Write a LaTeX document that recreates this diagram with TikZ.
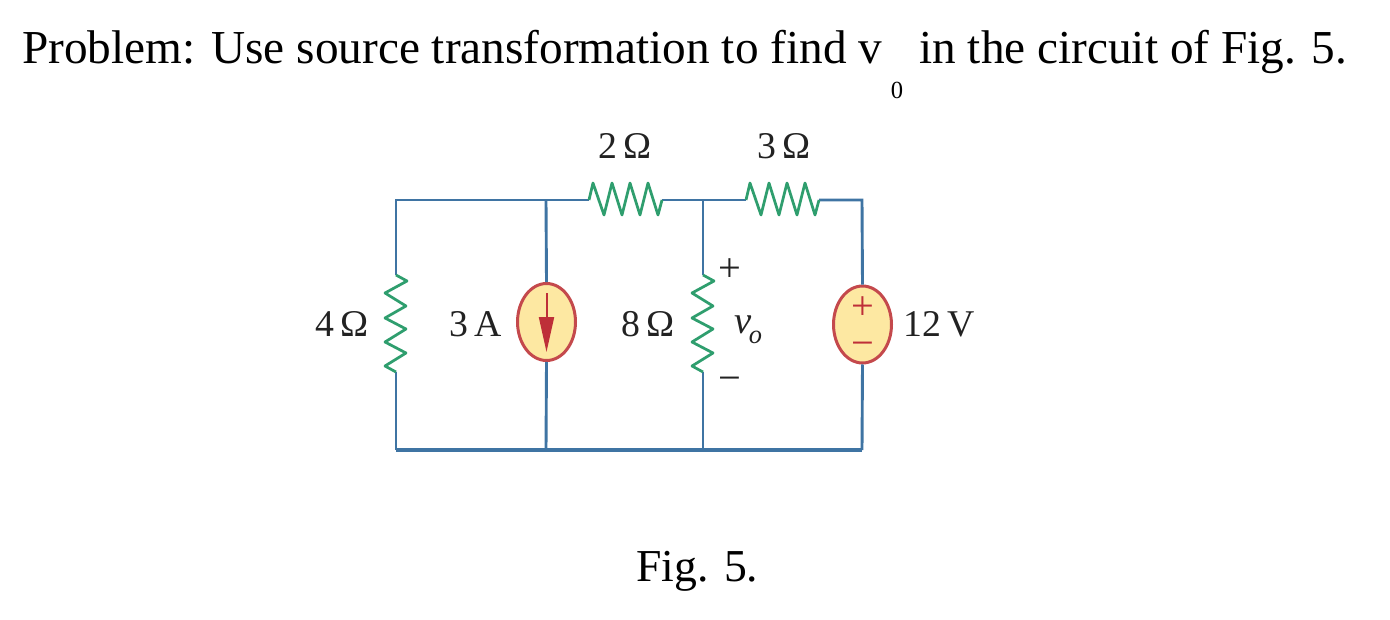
\documentclass[tikz,border=0pt]{standalone}
\usepackage{fontspec}
\setmainfont{Liberation Serif}
\usetikzlibrary{shapes.geometric, arrows.meta}

\definecolor{wire}{HTML}{3F74A3}
\definecolor{zigzag}{HTML}{2F9E6E}
\definecolor{sourcefill}{HTML}{FDE8A2}
\definecolor{sourceline}{HTML}{C4494C}
\definecolor{sourcemark}{HTML}{BE2F38}
\definecolor{labelink}{HTML}{222222}

\tikzset{
    wire_line/.style = {draw = wire, line width = 0.58mm},
    bus_line/.style = {draw = wire, line width = 0.8mm},
    resistor/.style = {draw = zigzag, line width = 0.55mm, line join = round},
    source/.style = {ellipse, draw = sourceline, fill = sourcefill,
        line width = 0.6mm, inner sep = 0pt,
        minimum width = 1.16cm, minimum height = 1.54cm},
    title_text/.style = {inner sep = 0pt, font = \fontsize{26.9}{30}\selectfont, text = black},
    value_text/.style = {inner sep = 0pt, font = \fontsize{21.5}{24}\selectfont, text = labelink},
    mark_text/.style = {inner sep = 0pt, font = \fontsize{23}{26}\selectfont},
    pics/hresistor/.style = {code = {
        \draw[resistor] (0, 0) -- (4, -17) -- (15, 15) -- (23, -17) -- (33, 15)
            -- (41, -17) -- (51, 15) -- (59, -17) -- (69, 15) -- (73, 0);
    }},
    pics/vresistor/.style = {code = {
        \draw[resistor] (0, 0) -- (11, 6) -- (-11, 18) -- (10, 31) -- (-11, 43)
            -- (10, 54) -- (-11, 67) -- (10, 78) -- (-11, 91) -- (0, 97);
    }}
}

\begin{document}
\begin{tikzpicture}[x = 0.02cm, y = -0.02cm]
    \useasboundingbox (0, 0) rectangle (1390, 619);

    % Corners and junctions of the circuit.
    \coordinate (Top_Left) at (396, 200);
    \coordinate (Top_A) at (546, 200);
    \coordinate (Top_B) at (703, 200);
    \coordinate (Top_Right) at (862, 200);
    \coordinate (Bottom_Left) at (396, 450);
    \coordinate (Bottom_A) at (546, 450);
    \coordinate (Bottom_B) at (703, 450);
    \coordinate (Bottom_Right) at (862, 450);

    % End points of the resistors.
    \coordinate (R2_Left) at (589, 200);
    \coordinate (R2_Right) at (662, 200);
    \coordinate (R3_Left) at (746, 200);
    \coordinate (R3_Right) at (819, 200);
    \coordinate (R4_Top) at (396, 275);
    \coordinate (R4_Bottom) at (396, 372);
    \coordinate (R8_Top) at (703, 275);
    \coordinate (R8_Bottom) at (703, 372);

    % Sources.
    \node[source] (Current_Source) at (546.5, 322) {};
    \node[source] (Voltage_Source) at (862.5, 324.5) {};

    % Wires.
    \draw[wire_line] (R4_Top) to (Top_Left) to (R2_Left);
    \draw[wire_line] (R2_Right) to (R3_Left);
    \draw[wire_line] (R3_Right) to (Top_Right) to (Voltage_Source.north);
    \draw[wire_line] (Top_A) to (Current_Source.north);
    \draw[wire_line] (Top_B) to (R8_Top);
    \draw[wire_line] (R4_Bottom) to (Bottom_Left);
    \draw[wire_line] (Current_Source.south) to (Bottom_A);
    \draw[wire_line] (R8_Bottom) to (Bottom_B);
    \draw[wire_line] (Voltage_Source.south) to (Bottom_Right);
    \draw[bus_line] (Bottom_Left) to (Bottom_Right);

    % Resistors.
    \pic at (R2_Left) {hresistor};
    \pic at (R3_Left) {hresistor};
    \pic at (R4_Top) {vresistor};
    \pic at (R8_Top) {vresistor};

    % Marks inside the sources.
    \draw[draw = sourcemark, line width = 0.4mm,
        -{Triangle[length = 0.7cm, width = 0.3cm, fill = sourcemark]}]
        (546.5, 293) to (546.5, 352);
    \node[mark_text, text = sourcemark] (Plus_Mark) at (862.5, 308) {+};
    \node[mark_text, text = sourcemark] (Minus_Mark) at (862.5, 349) {−};

    % Labels of the circuit.
    \node[value_text, anchor = base] (Label_R2) at (625, 158) {2\,Ω};
    \node[value_text, anchor = base] (Label_R3) at (784, 158) {3\,Ω};
    \node[value_text, anchor = base] (Label_R4) at (342, 336) {4\,Ω};
    \node[value_text, anchor = base] (Label_I) at (476, 336) {3\,A};
    \node[value_text, anchor = base] (Label_R8) at (648, 336) {8\,Ω};
    \node[value_text, anchor = base] (Label_V) at (939, 336) {12\,V};
    \node[mark_text, text = labelink] (Plus_Vo) at (730, 270) {+};
    \node[mark_text, text = labelink] (Minus_Vo) at (730, 384) {−};
    \node[value_text, anchor = base west] (Label_Vo) at (734, 333)
        {\fontsize{22}{24}\selectfont\itshape v\kern-1.5pt\raisebox{-0.6ex}{\fontsize{15}{16}\selectfont o}};

    % Statement and caption.
    \node[title_text, anchor = base west] (Title_Left) at (22, 63)
        {Problem: Use source transformation to find v};
    \node[inner sep = 0pt, anchor = base, font = \fontsize{14}{16}\selectfont]
        (Title_Sub) at (897, 98) {0};
    \node[title_text, anchor = base west] (Title_Right) at (919, 63)
        {in the circuit of Fig. 5.};
    \node[title_text, anchor = base, font = \fontsize{26}{30}\selectfont]
        (Caption) at (697.5, 581) {Fig. 5.};
\end{tikzpicture}
\end{document}
